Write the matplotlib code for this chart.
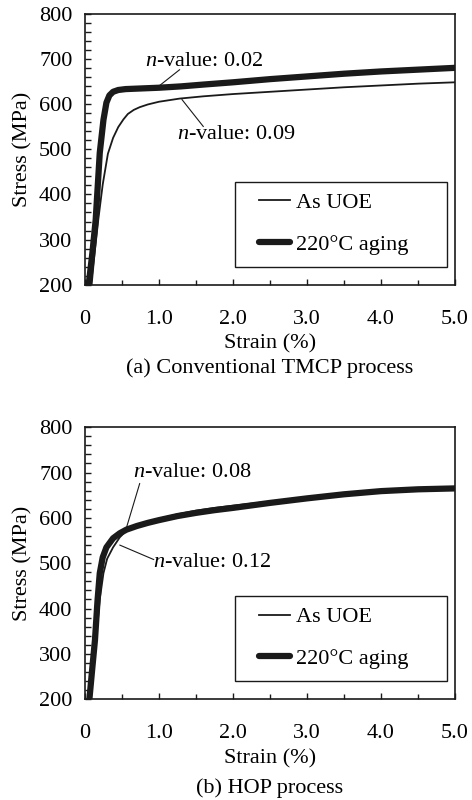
import matplotlib
matplotlib.use("Agg")
import matplotlib.pyplot as plt
from matplotlib.patches import Rectangle
from matplotlib.ticker import MultipleLocator, FixedLocator, FixedFormatter

plt.rcParams['font.family'] = ['Liberation Serif', 'DejaVu Serif']
plt.rcParams['mathtext.fontset'] = 'custom'
plt.rcParams['mathtext.rm'] = 'Liberation Serif'
plt.rcParams['mathtext.it'] = 'Liberation Serif:italic'
plt.rcParams['font.size'] = 16

# (a) Conventional TMCP process
a_uoe_strain = [0.09, 0.13, 0.18, 0.24, 0.31, 0.38, 0.45, 0.52, 0.58, 0.66, 0.74, 0.85,
                1.0, 1.28, 1.6, 2.0, 2.5, 3.0, 3.5, 4.0, 4.5, 5.0]
a_uoe_stress = [200, 270, 344, 422, 490, 525, 549, 566, 578, 587, 593, 599,
                605, 612, 617, 622, 627, 632, 637, 641, 645, 648]
a_aged_strain = [0.05, 0.10, 0.145, 0.20, 0.25, 0.29, 0.33, 0.38, 0.45, 0.55, 0.7,
                 1.0, 1.3, 1.6, 2.0, 2.5, 3.0, 3.5, 4.0, 4.5, 5.0]
a_aged_stress = [200, 270, 344, 492, 565, 603, 619, 627, 631, 633, 634,
                 636, 639, 643, 648, 655, 661, 667, 672, 676, 680]

# (b) HOP process
b_uoe_strain = [0.08, 0.12, 0.16, 0.20, 0.25, 0.30, 0.38, 0.47, 0.56, 0.7, 0.85, 1.0,
                1.25, 1.5, 1.75, 2.0, 2.5, 3.0, 3.5, 4.0, 4.5, 5.0]
b_uoe_stress = [200, 280, 350, 420, 478, 510, 535, 557, 572, 583, 591, 598,
                608, 616, 622, 627, 636, 645, 653, 660, 664, 667]
b_aged_strain = [0.06, 0.10, 0.135, 0.17, 0.20, 0.24, 0.29, 0.38, 0.47, 0.56, 0.7, 0.85,
                 1.0, 1.25, 1.5, 1.75, 2.0, 2.5, 3.0, 3.5, 4.0, 4.5, 5.0]
b_aged_stress = [200, 270, 330, 418, 478, 513, 535, 555, 566, 574, 582, 589,
                 595, 604, 611, 617, 622, 633, 643, 652, 659, 663, 665]

xtick_vals = [0, 1, 2, 3, 4, 5]
xtick_labels = ['0', '1.0', '2.0', '3.0', '4.0', '5.0']
ytick_vals = [200, 300, 400, 500, 600, 700, 800]

# n-value notes: text, text position, leader line start, leader line end
a_notes = [
    ('$n$-value: 0.02', (0.81, 694), (1.28, 676), (1.01, 641)),
    ('$n$-value: 0.09', (1.24, 532), (1.31, 610), (1.60, 550)),
]
b_notes = [
    ('$n$-value: 0.08', (0.65, 701), (0.74, 676), (0.56, 578)),
    ('$n$-value: 0.12', (0.92, 502), (0.47, 540), (0.93, 508)),
]

fig = plt.figure(figsize=(4.72, 8), dpi=100)
ax_a = fig.add_axes([0.180, 0.644, 0.784, 0.339])
ax_b = fig.add_axes([0.180, 0.126, 0.784, 0.340])


def draw_panel(ax, uoe_x, uoe_y, aged_x, aged_y, notes, caption, cap_y):
    ax.plot(uoe_x, uoe_y, color='#1a1a1a', lw=1.3, label='As UOE')
    ax.plot(aged_x, aged_y, color='#1a1a1a', lw=4.5, solid_capstyle='round',
            label='220°C aging')
    for txt, tpos, p0, p1 in notes:
        ax.text(tpos[0], tpos[1], txt, ha='left', va='center', fontsize=16)
        ax.annotate('', xy=p1, xytext=p0,
                    arrowprops=dict(arrowstyle='-', color='#1a1a1a', lw=0.8,
                                    shrinkA=0, shrinkB=0))

    ax.set_xlim(0, 5)
    ax.set_ylim(200, 800)
    ax.xaxis.set_major_locator(FixedLocator(xtick_vals))
    ax.xaxis.set_major_formatter(FixedFormatter(xtick_labels))
    ax.xaxis.set_minor_locator(MultipleLocator(0.5))
    ax.yaxis.set_major_locator(FixedLocator(ytick_vals))
    ax.yaxis.set_minor_locator(MultipleLocator(20))
    ax.tick_params(which='both', direction='in', width=1.0, color='#1a1a1a')
    ax.tick_params(axis='x', which='major', length=4.5, pad=18)
    ax.tick_params(axis='x', which='minor', length=3.5)
    ax.tick_params(axis='y', which='major', length=4.5, pad=9)
    ax.tick_params(axis='y', which='minor', length=4)
    for s in ax.spines.values():
        s.set_linewidth(1.2)
        s.set_color('#1a1a1a')

    ax.set_xlabel('Strain (%)', labelpad=4)
    ax.set_ylabel('Stress (MPa)', labelpad=5)

    # legend box
    ax.add_patch(Rectangle((0.405, 0.066), 0.573, 0.314, transform=ax.transAxes,
                           fill=False, lw=1.0, edgecolor='#1a1a1a', zorder=5))
    ax.legend(loc='center left', bbox_to_anchor=(0.44, 0.225), frameon=False,
              borderpad=0, handlelength=1.4, handletextpad=0.25,
              labelspacing=0.95, fontsize=16)

    ax.text(0.5, cap_y, caption, transform=ax.transAxes, ha='center',
            va='center', fontsize=16)


draw_panel(ax_a, a_uoe_strain, a_uoe_stress, a_aged_strain, a_aged_stress,
           a_notes, '(a) Conventional TMCP process', -0.306)
draw_panel(ax_b, b_uoe_strain, b_uoe_stress, b_aged_strain, b_aged_stress,
           b_notes, '(b) HOP process', -0.328)

fig.savefig('out.png', dpi=100)
